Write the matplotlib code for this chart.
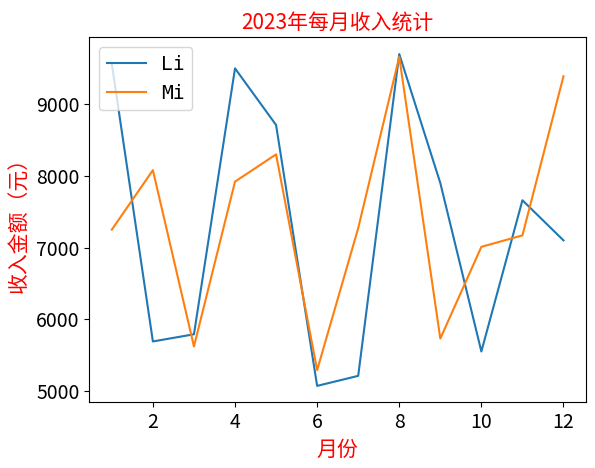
import matplotlib
matplotlib.use("Agg")
import matplotlib.pyplot as plt

plt.rcParams['font.family'] = ['Noto Sans CJK SC', 'DejaVu Sans']
plt.rcParams['axes.unicode_minus'] = False

months = list(range(1, 13))
li = [9560, 5690, 5790, 9500, 8710, 5070, 5210, 9700, 7900, 5550, 7660, 7100]
mi = [7250, 8080, 5620, 7920, 8300, 5290, 7270, 9660, 5730, 7010, 7170, 9390]

fig, ax = plt.subplots(figsize=(5.95, 4.68), dpi=100)
ax.plot(months, li, label='Li')
ax.plot(months, mi, label='Mi')
ax.set_title('2023年每月收入统计', color='red', fontsize=15)
ax.set_xlabel('月份', color='red', fontsize=15)
ax.set_ylabel('收入金额（元）', color='red', fontsize=15)
ax.tick_params(labelsize=14)
ax.legend(loc='upper left', prop={'family': 'DejaVu Sans Mono', 'size': 14})
fig.subplots_adjust(left=0.15, right=0.985, top=0.92, bottom=0.14)
fig.savefig('out.png')
